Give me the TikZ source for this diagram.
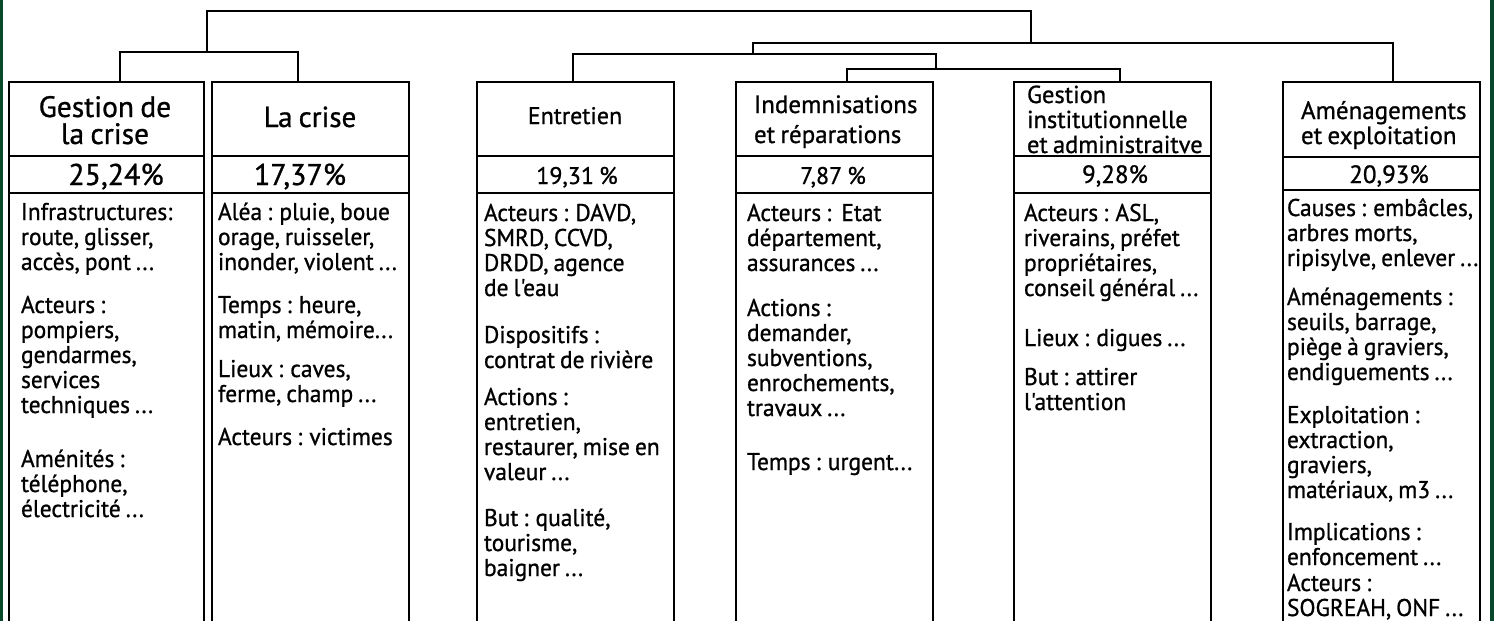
\documentclass[tikz,border=0pt]{standalone}
\usepackage{fontspec}
\setmainfont{PT Sans}[WordSpace=0.8,FakeBold=0.9]
\newfontfamily\listfont{PT Sans}[WordSpace=0.8,FakeStretch=0.97,FakeBold=0.9]
\definecolor{edgegreen}{RGB}{8,72,42}
\newcommand{\fsz}[2]{\fontsize{#1}{#2}\selectfont\lineskiplimit=-100pt\relax}
\begin{document}
\begin{tikzpicture}[x=1pt,y=-1pt,line width=2pt,
  panel/.style={draw,line width=2.1pt,minimum width=197,minimum height=580,anchor=north west,inner sep=0},
  bigtitle/.style={font=\fsz{29.5}{27},inner sep=0,align=center},
  title/.style={font=\fsz{25}{25},inner sep=0,align=left},
  pct/.style={inner sep=0,anchor=base},
  body/.style={font=\listfont\fsz{24.2}{25},inner sep=0,align=left,anchor=north west},
  link/.style={line width=2.3pt,line join=miter}]
\useasboundingbox (0,0) rectangle (1494,621);
\fill[white] (0,0) rectangle (1494,621);
\begin{scope}
\clip (0,0) rectangle (1494,621);

% column frames, open at the bottom edge
\node[panel,minimum width=195] (b1) at (8,81) {};
\node[panel] (b2) at (211,81) {};
\node[panel] (b3) at (476,81) {};
\node[panel] (b4) at (735,81) {};
\node[panel] (b5) at (1013,81) {};
\node[panel] (b6) at (1282,81) {};

% title / percentage separators
\foreach \b/\ya/\yb in {b1/156/193,b2/156/193,b3/156/193,b4/156/193,b5/156/193,b6/157/190}{
  \draw (\b.west |- 0,\ya) -- (\b.east |- 0,\ya);
  \draw (\b.west |- 0,\yb) -- (\b.east |- 0,\yb);
}

% titles
\node[bigtitle,anchor=north] (t1) at (105,92) {\rule{0pt}{24pt}Gestion de\\la crise};
\node[pct,font=\fsz{29}{29}] (t2) at (310,127) {La crise};
\node[pct,font=\fsz{24}{24}] (t3) at (575,124) {Entretien};
\node[title,anchor=north west,font=\fsz{25}{30}] (t4) at (753,92) {\rule{0pt}{20pt}Indemnisations\\et réparations};
\node[title,anchor=north west,font=\fsz{24.5}{25}] (t5) at (1026,82) {\rule{0pt}{20pt}Gestion\\institutionnelle\\et administraitve};
\node[title,anchor=north west] (t6) at (1300,98) {\rule{0pt}{20pt}Aménagements\\et exploitation};

% percentages
\node[pct,font=\fsz{30}{30}] (p1) at (116,185) {25,24\%};
\node[pct,font=\fsz{30}{30}] (p2) at (300,185) {17,37\%};
\node[pct,font=\fsz{24}{24}] (p3) at (577,184) {19,31 \%};
\node[pct,font=\fsz{24}{24}] (p4) at (833,184) {7,87 \%};
\node[pct,font=\fsz{25}{25}] (p5) at (1115,183) {9,28\%};
\node[pct,font=\fsz{25}{25}] (p6) at (1389,183) {20,93\%};

% keyword lists
\node[body] (k1) at (20,199) {\rule{0pt}{20pt}Infrastructures:\\route, glisser,\\accès, pont ...\\[18pt]
  Acteurs :\\pompiers,\\gendarmes,\\services\\techniques ...\\[29pt]
  Aménités :\\téléphone,\\électricité ...};
\node[body] (k2) at (217,199) {\rule{0pt}{20pt}Aléa : pluie, boue\\orage, ruisseler,\\inonder, violent ...\\[18pt]
  Temps : heure,\\matin, mémoire...\\[14pt]
  Lieux : caves,\\ferme, champ ...\\[18pt]
  Acteurs : victimes};
\node[body] (k3) at (483,200) {\rule{0pt}{20pt}Acteurs : DAVD,\\SMRD, CCVD,\\DRDD, agence\\de l'eau\\[22pt]
  Dispositifs :\\contrat de rivière\\[12pt]
  Actions :\\entretien,\\restaurer, mise en\\valeur ...\\[21pt]
  But : qualité,\\tourisme,\\baigner ...};
\node[body] (k4) at (746,200) {\rule{0pt}{20pt}Acteurs :\ \ Etat\\département,\\assurances ...\\[20pt]
  Actions :\\demander,\\subventions,\\enrochements,\\travaux ...\\[29pt]
  Temps : urgent...};
\node[body] (k5) at (1023,200) {\rule{0pt}{20pt}Acteurs : ASL,\\riverains, préfet\\propriétaires,\\conseil général ...\\[25pt]
  Lieux : digues ...\\[14pt]
  But : attirer\\l'attention};
\node[body] (k6) at (1286,195) {\rule{0pt}{20pt}Causes : embâcles,\\arbres morts,\\ripisylve, enlever ...\\[14pt]
  Aménagements :\\seuils, barrage,\\piège à graviers,\\endiguements ...\\[18pt]
  Exploitation :\\extraction,\\graviers,\\matériaux, m3 ...\\[17pt]
  Implications :\\enfoncement ...\\[1pt]
  Acteurs :\\SOGREAH, ONF ...};

% attachment points on the frames and branch points of the tree
\coordinate (c1) at (120,81);
\coordinate (c2) at (298,81);
\coordinate (c3) at (573,81);
\coordinate (c4) at (847,81);
\coordinate (c5) at (1120,81);
\coordinate (c6) at (1393,81);
\coordinate (j12) at (207,52);
\coordinate (j45) at (936,69);
\coordinate (j345) at (753,54);
\coordinate (jR) at (1031,43);
\coordinate (root) at (620,11);

\draw[link] (c1) |- (j12) -| (c2);
\draw[link] (c4) |- (j45) -| (c5);
\draw[link] (c3) |- (j345) -| (j45);
\draw[link] (j345) |- (jR) -| (c6);
\draw[link] (j12) |- (root) -| (jR);
\end{scope}

% dark side edges
\fill[edgegreen] (0,0) rectangle (3,621);
\fill[edgegreen] (1490,0) rectangle (1494,621);
\end{tikzpicture}
\end{document}
